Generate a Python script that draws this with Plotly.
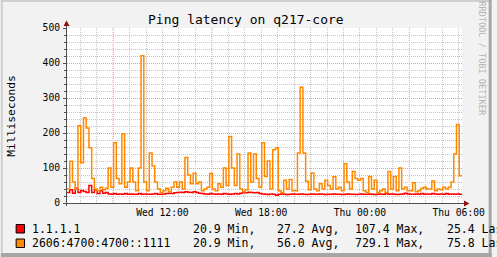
import pandas as pd
import plotly.graph_objects as go

# ---------------- data ----------------
start = pd.Timestamp("2024-01-03 06:12")   # Wed
end = pd.Timestamp("2024-01-04 06:12")     # Thu
times = pd.date_range(start, periods=144, freq="10min")

ipv4_ms = [30, 38, 28, 42, 30, 36, 33, 30, 50, 30, 38, 27, 35, 28, 30,
           26, 25, 27, 25, 26, 25, 27, 25, 26, 25, 25, 27, 25, 26, 25,
           25, 26, 27, 25, 25, 26, 27, 28, 27, 29, 30, 31, 30, 32, 31,
           30, 32, 30, 28, 27, 26, 25, 27, 26, 25, 26, 25, 27, 26, 25,
           26, 27, 26, 28, 30, 29, 31, 30, 29, 30, 27, 26, 25, 24, 26,
           25, 22, 25, 26, 25, 24, 25, 26, 25, 25, 26, 25, 24, 25, 26,
           25, 25, 26, 25, 24, 25, 25, 26, 25, 25, 24, 25, 26, 25, 25,
           24, 25, 26, 25, 25, 26, 25, 24, 25, 26, 25, 27, 25, 26, 25,
           24, 25, 26, 28, 26, 25, 25, 26, 25, 27, 25, 26, 25, 27, 26,
           25, 26, 25, 27, 25, 26, 25, 26, 25]
ipv6_ms = [40, 119, 60, 40, 221, 115, 243, 214, 158, 70, 40, 35, 45, 38, 42,
           100, 45, 172, 70, 55, 198, 45, 60, 100, 60, 35, 100, 421, 60, 35,
           143, 106, 60, 40, 30, 35, 42, 32, 45, 60, 45, 60, 40, 130, 80,
           55, 85, 55, 60, 35, 40, 45, 84, 40, 35, 55, 45, 100, 50, 190,
           100, 50, 140, 40, 32, 38, 143, 60, 140, 70, 45, 172, 76, 120, 40,
           152, 157, 35, 30, 65, 40, 67, 35, 35, 143, 331, 143, 62, 38, 86,
           40, 35, 55, 40, 65, 50, 40, 75, 40, 45, 35, 112, 60, 40, 90,
           70, 65, 70, 35, 30, 76, 40, 65, 30, 35, 40, 30, 90, 40, 76,
           35, 100, 40, 45, 35, 35, 58, 32, 35, 42, 45, 40, 40, 63, 35,
           40, 38, 45, 40, 45, 60, 140, 224, 78]

series_names = ["1.1.1.1", "2606:4700:4700::1111"]
series_colors = ["#FF0000", "#FF8800"]
stats = [["20.9 Min,", "27.2 Avg,", "107.4 Max,", "25.4 Last"],
         ["20.9 Min,", "56.0 Avg,", "729.1 Max,", "75.8 Last"]]

label_times = [pd.Timestamp("2024-01-03 12:00"), pd.Timestamp("2024-01-03 18:00"),
               pd.Timestamp("2024-01-04 00:00"), pd.Timestamp("2024-01-04 06:00")]
label_text = ["Wed 12:00", "Wed 18:00", "Thu 00:00", "Thu 06:00"]
major_times = [pd.Timestamp("2024-01-03 09:00"), pd.Timestamp("2024-01-03 15:00"),
               pd.Timestamp("2024-01-03 21:00"), pd.Timestamp("2024-01-04 03:00")]

# ---------------- geometry ----------------
W, H = 497, 257
L, R, T, B = 67, 30, 28, 54
PW, PH = W - L - R, H - T - B

def px(x):
    return (x - L) / PW

def py(y):
    return (H - B - y) / PH

MONO = "DejaVu Sans Mono"
GRID = "#C4C4C4"
MGRID = "#E79A9A"
AXIS = "#505050"
ARROW = "#8B1010"

fig = go.Figure()
xs = list(times) + [end]
for vals, name, col in zip([ipv4_ms, ipv6_ms], series_names, series_colors):
    fig.add_trace(go.Scatter(x=xs, y=list(vals) + [vals[-1]], mode="lines",
                             line=dict(color=col, width=1.5, shape="hv"),
                             name=name, hoverinfo="skip", showlegend=False))

shapes = []
# major vertical grid (red dotted)
for t in major_times:
    shapes.append(dict(type="line", xref="x", yref="paper", x0=t, x1=t, y0=0, y1=1,
                       line=dict(color=MGRID, width=1, dash="1px,1px"), layer="between"))
# axis lines
shapes.append(dict(type="line", xref="paper", yref="paper", x0=px(66.5), x1=px(66.5),
                   y0=py(206), y1=py(24), line=dict(color=AXIS, width=1), layer="above"))
shapes.append(dict(type="line", xref="paper", yref="paper", x0=px(63), x1=px(470),
                   y0=py(203.5), y1=py(203.5), line=dict(color=AXIS, width=1), layer="above"))
# arrows
shapes.append(dict(type="path", xref="paper", yref="paper",
                   path=f"M {px(63.5)} {py(26)} L {px(69.5)} {py(26)} L {px(66.5)} {py(20.5)} Z",
                   fillcolor=ARROW, line=dict(width=0), layer="above"))
shapes.append(dict(type="path", xref="paper", yref="paper",
                   path=f"M {px(469)} {py(200.5)} L {px(469)} {py(206.5)} L {px(474.5)} {py(203.5)} Z",
                   fillcolor=ARROW, line=dict(width=0), layer="above"))
# frame
shapes.append(dict(type="rect", xref="paper", yref="paper", x0=px(0), x1=px(2), y0=py(H), y1=py(0),
                   fillcolor="#CFCFCF", line=dict(width=0), layer="above"))
shapes.append(dict(type="rect", xref="paper", yref="paper", x0=px(0), x1=px(W), y0=py(2), y1=py(0),
                   fillcolor="#CFCFCF", line=dict(width=0), layer="above"))
shapes.append(dict(type="rect", xref="paper", yref="paper", x0=px(W - 3), x1=px(W), y0=py(H), y1=py(0),
                   fillcolor="#A6A6A6", line=dict(width=0), layer="above"))
shapes.append(dict(type="rect", xref="paper", yref="paper", x0=px(0), x1=px(W), y0=py(H), y1=py(H - 4),
                   fillcolor="#A6A6A6", line=dict(width=0), layer="above"))

annotations = []
# title
annotations.append(dict(text="Ping latency on q217-core", xref="paper", yref="paper",
                        x=px(248), y=py(19), xanchor="center", yanchor="middle", showarrow=False,
                        font=dict(family=MONO, size=13, color="#000000")))
# y title
annotations.append(dict(text="Milliseconds", xref="paper", yref="paper", x=px(10.5), y=py(115.5),
                        xanchor="center", yanchor="middle", textangle=-90, showarrow=False,
                        font=dict(family=MONO, size=11.3, color="#000000")))
# watermark
annotations.append(dict(text="RRDTOOL / TOBI OETIKER", xref="paper", yref="paper", x=px(487),
                        y=py(59), xanchor="center", yanchor="middle", textangle=90, showarrow=False,
                        font=dict(family=MONO, size=8.6, color="#B4B4B4")))
# legend
rows_y = [229, 243.5]
stat_x = [193.3, 279.1, 357.8, 450.7]
for i, (name, col) in enumerate(zip(series_names, series_colors)):
    yc = rows_y[i]
    shapes.append(dict(type="rect", xref="paper", yref="paper", x0=px(15.5), x1=px(24),
                       y0=py(yc - 4.5), y1=py(yc + 4), fillcolor=col,
                       line=dict(color="#000000", width=1), layer="above"))
    annotations.append(dict(text=name, xref="paper", yref="paper", x=px(30), y=py(yc),
                            xanchor="left", yanchor="middle", showarrow=False,
                            font=dict(family=MONO, size=11.5, color="#000000")))
    for sx, st in zip(stat_x, stats[i]):
        annotations.append(dict(text=st, xref="paper", yref="paper", x=px(sx - 1), y=py(yc),
                                xanchor="left", yanchor="middle", showarrow=False,
                                font=dict(family=MONO, size=11.5, color="#000000")))

fig.update_layout(
    width=W, height=H, margin=dict(l=L, r=R, t=T, b=B, pad=0),
    paper_bgcolor="#F2F2F2", plot_bgcolor="#FFFFFF",
    shapes=shapes, annotations=annotations, showlegend=False,
    xaxis=dict(type="date", range=[start, end], tickmode="array", tickvals=label_times,
               ticktext=label_text, showgrid=True, gridcolor=GRID, griddash="1px,1px",
               gridwidth=1, ticks="", zeroline=False, showline=False,
               ticklabelstandoff=2,
               tickfont=dict(family=MONO, size=9.7, color="#000000"),
               minor=dict(dtick=3600000, tick0="2024-01-03 07:00", showgrid=True,
                          gridcolor=GRID, griddash="1px,1px", gridwidth=1)),
    yaxis=dict(range=[0, 500], tickmode="linear", tick0=0, dtick=100, showgrid=True,
               gridcolor=MGRID, griddash="1px,1px", gridwidth=1, zeroline=False,
               showline=False, ticks="outside", ticklen=3, tickcolor=AXIS,
               ticklabelstandoff=1,
               tickfont=dict(family=MONO, size=9.7, color="#000000"),
               minor=dict(dtick=20, showgrid=True, gridcolor=GRID, griddash="1px,1px",
                          gridwidth=1, ticks="outside", ticklen=2, tickcolor=AXIS)),
)

fig.write_html("out.html")
